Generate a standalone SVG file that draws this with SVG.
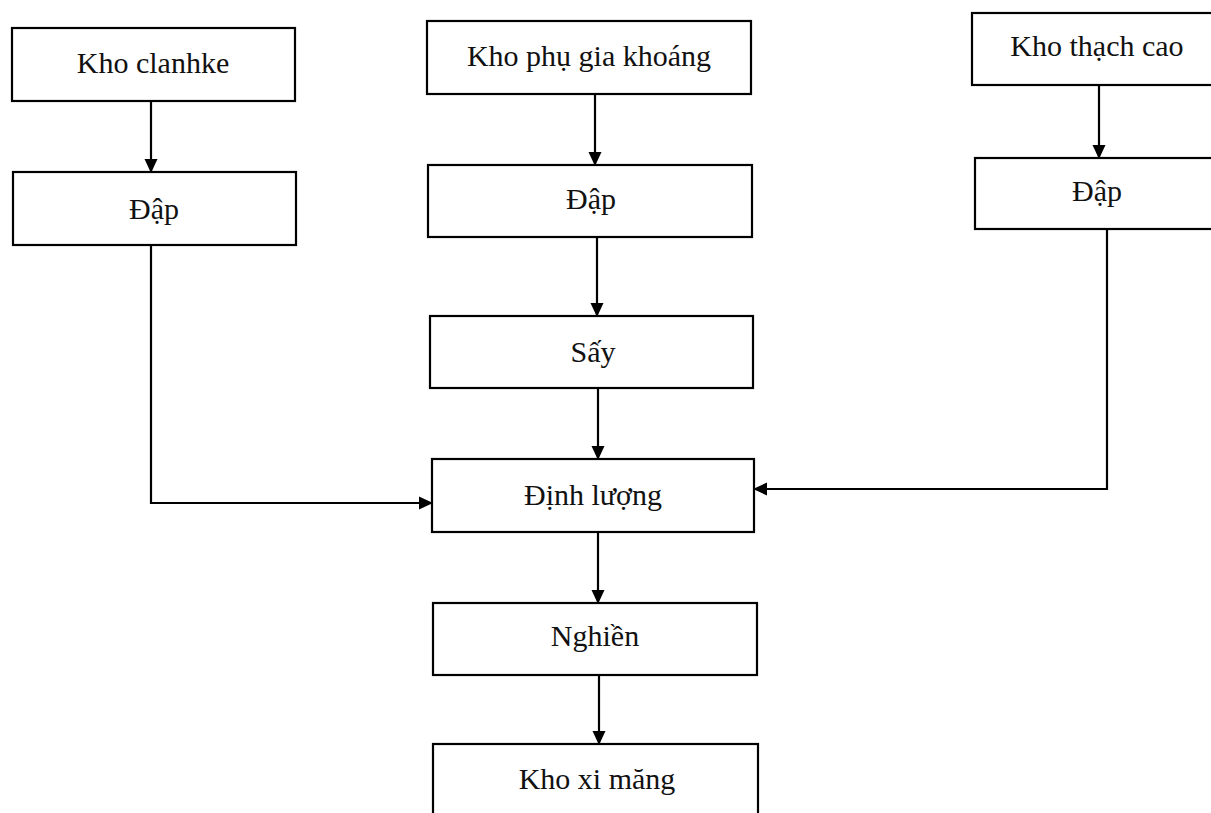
<svg xmlns="http://www.w3.org/2000/svg" width="1211" height="813" viewBox="0 0 1211 813">
<defs>
<style>
.box{fill:#fff;stroke:#000;stroke-width:2.2}
.lbl{font-family:"Liberation Serif","Times New Roman",serif;font-size:30px;fill:#111;text-anchor:middle}
.con{fill:none;stroke:#000;stroke-width:2.2}
</style>
<marker id="arr" viewBox="0 0 14 14" refX="13" refY="7" markerWidth="14" markerHeight="14" markerUnits="userSpaceOnUse" orient="auto">
<path d="M0,0.5 L14,7 L0,13.5 Z" fill="#000"/>
</marker>
</defs>
<rect width="1211" height="813" fill="#fff"/>
<g id="kho-clanhke"><rect class="box" x="12" y="28" width="283" height="73"/><text class="lbl" x="153" y="73">Kho clanhke</text></g>
<g id="dap-1"><rect class="box" x="13" y="172" width="283" height="73"/><text class="lbl" x="154" y="219">Đập</text></g>
<g id="kho-phu-gia"><rect class="box" x="427" y="21" width="324" height="73"/><text class="lbl" x="589" y="66">Kho phụ gia khoáng</text></g>
<g id="dap-2"><rect class="box" x="428" y="165" width="324" height="72"/><text class="lbl" x="591" y="209">Đập</text></g>
<g id="say"><rect class="box" x="430" y="316" width="323" height="72"/><text class="lbl" x="593" y="362">Sấy</text></g>
<g id="kho-thach-cao"><rect class="box" x="972" y="13" width="260" height="72"/><text class="lbl" x="1097" y="56">Kho thạch cao</text></g>
<g id="dap-3"><rect class="box" x="975" y="158" width="260" height="71"/><text class="lbl" x="1097" y="201">Đập</text></g>
<g id="dinh-luong"><rect class="box" x="432" y="459" width="322" height="73"/><text class="lbl" x="593" y="505">Định lượng</text></g>
<g id="nghien"><rect class="box" x="433" y="603" width="324" height="72"/><text class="lbl" x="595" y="646">Nghiền</text></g>
<g id="kho-xi-mang"><rect class="box" x="433" y="744" width="325" height="90"/><text class="lbl" x="597" y="789">Kho xi măng</text></g>
<g id="connectors">
<path class="con" d="M151,101 V172" marker-end="url(#arr)"/>
<path class="con" d="M595,94 V165" marker-end="url(#arr)"/>
<path class="con" d="M597,237 V316" marker-end="url(#arr)"/>
<path class="con" d="M598,388 V459" marker-end="url(#arr)"/>
<path class="con" d="M1099,85 V158" marker-end="url(#arr)"/>
<path class="con" d="M151,245 V503 H432" marker-end="url(#arr)"/>
<path class="con" d="M1107,229 V489 H754" marker-end="url(#arr)"/>
<path class="con" d="M598,532 V603" marker-end="url(#arr)"/>
<path class="con" d="M599,675 V744" marker-end="url(#arr)"/>
</g>
</svg>
